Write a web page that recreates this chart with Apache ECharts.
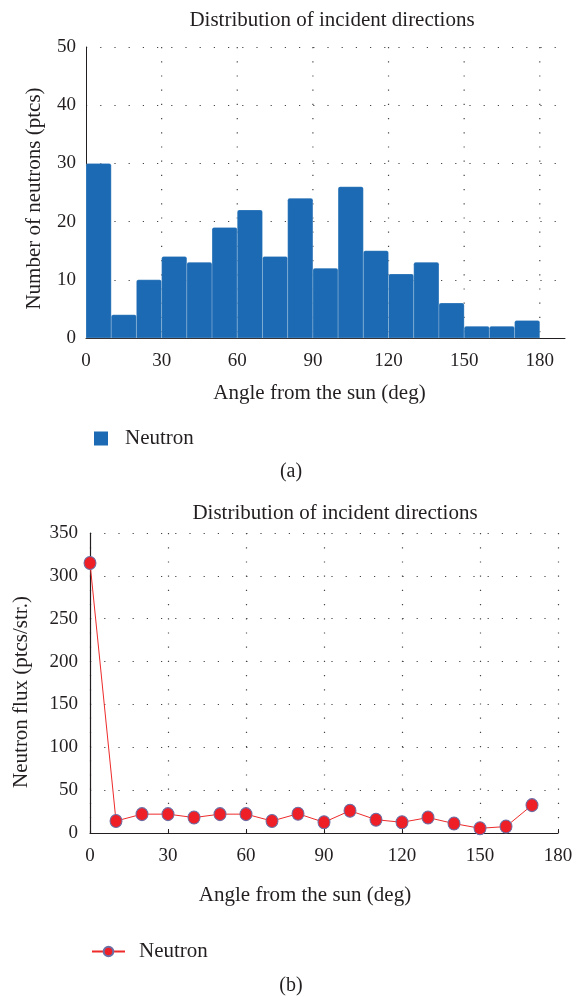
<!DOCTYPE html>
<html>
<head>
<meta charset="utf-8">
<script src="https://cdn.jsdelivr.net/npm/echarts@6/dist/echarts.min.js"></script>
<style>
  html, body { margin: 0; padding: 0; background: #fff; }
  #chart { width: 578px; height: 997px; }
</style>
</head>
<body>
<div id="chart"></div>
<script>
// Histogram: 10-degree bins of angle from the sun and neutron counts per bin
const binEdges = [0, 10, 20, 30, 40, 50, 60, 70, 80, 90, 100, 110, 120, 130, 140, 150, 160, 170, 180];
const neutronCounts = [30, 4, 10, 14, 13, 19, 22, 14, 24, 12, 26, 15, 11, 13, 6, 2, 2, 3];

// Flux per steradian at the start of each bin
const fluxAngles = [0, 10, 20, 30, 40, 50, 60, 70, 80, 90, 100, 110, 120, 130, 140, 150, 160, 170];
const fluxValues = [315, 14, 22, 22, 18, 22, 22, 14, 22.5, 12.5, 26, 15.5, 12.5, 18, 11, 5.5, 7.5, 32.5];

// Axis ticks
const angleTicks = [0, 30, 60, 90, 120, 150, 180];
const countTicks = [0, 10, 20, 30, 40, 50];
const fluxTicks = [0, 50, 100, 150, 200, 250, 300, 350];

const FONT = '"Liberation Serif", "DejaVu Serif", serif';
const TEXT = '#231f20';
const BAR = '#1b6ab3';
const DOT = [1.2, 13];

const histData = neutronCounts.map((c, i) => [binEdges[i], binEdges[i + 1], c]);
const fluxData = fluxAngles.map((a, i) => [a, fluxValues[i]]);
const angleStep = angleTicks[1] - angleTicks[0];

const chart = echarts.init(document.getElementById('chart'), null, { renderer: 'canvas' });

const tickStyle = { color: TEXT, fontFamily: FONT, fontSize: 19 };
const wordStyle = { color: TEXT, fontFamily: FONT, fontSize: 21 };
const dotted = { color: '#444', width: 1.2, type: DOT };

chart.setOption({
  animation: false,
  backgroundColor: '#fff',
  title: [
    { text: 'Distribution of incident directions', left: 327, top: 5, textAlign: 'center',
      textStyle: { fontFamily: FONT, fontSize: 21, fontWeight: 'normal', color: TEXT } },
    { text: 'Distribution of incident directions', left: 330, top: 498, textAlign: 'center',
      textStyle: { fontFamily: FONT, fontSize: 21, fontWeight: 'normal', color: TEXT } }
  ],
  legend: [
    { data: [{ name: 'counts', icon: 'rect' }], left: 94, top: 428, padding: 0, itemWidth: 14, itemHeight: 14,
      formatter: () => 'Neutron', selectedMode: false,
      textStyle: Object.assign({ padding: [0, 0, 0, 12] }, wordStyle) },
    { data: ['flux'], left: 91, top: 941, padding: 0, itemWidth: 33, itemHeight: 12,
      formatter: () => 'Neutron', selectedMode: false,
      textStyle: Object.assign({ padding: [0, 0, 0, 9] }, wordStyle) }
  ],
  grid: [
    { left: 86, right: 13, top: 47, height: 291 },
    { left: 90, right: 20, top: 533, height: 300 }
  ],
  xAxis: [
    { type: 'value', gridIndex: 0, min: angleTicks[0], max: angleTicks[angleTicks.length - 1] + 10,
      interval: angleStep,
      axisLine: { show: true, lineStyle: { color: TEXT, width: 1 } },
      axisTick: { show: false },
      axisLabel: Object.assign({ margin: 14, showMaxLabel: false }, tickStyle),
      splitLine: { show: false },
      name: 'Angle from the sun (deg)', nameLocation: 'middle', nameGap: 45,
      nameTextStyle: Object.assign({ padding: [0, 12, 0, 0] }, wordStyle) },
    { type: 'value', gridIndex: 1, min: angleTicks[0], max: angleTicks[angleTicks.length - 1],
      interval: angleStep,
      axisLine: { show: true, lineStyle: { color: TEXT, width: 1.2 } },
      axisTick: { show: true, inside: true, length: 4, lineStyle: { color: TEXT } },
      axisLabel: Object.assign({ margin: 14 }, tickStyle),
      splitLine: { show: true, lineStyle: dotted },
      name: 'Angle from the sun (deg)', nameLocation: 'middle', nameGap: 52,
      nameTextStyle: Object.assign({ padding: [0, 38, 0, 0] }, wordStyle) }
  ],
  yAxis: [
    { type: 'value', gridIndex: 0, min: countTicks[0], max: countTicks[countTicks.length - 1],
      interval: countTicks[1] - countTicks[0],
      axisLine: { show: true, lineStyle: { color: TEXT, width: 1 } },
      axisTick: { show: false },
      axisLabel: Object.assign({ margin: 10 }, tickStyle),
      splitLine: { show: true, lineStyle: dotted },
      name: 'Number of neutrons (ptcs)', nameLocation: 'middle', nameGap: 41,
      nameTextStyle: Object.assign({ padding: [0, 12, 0, 0] }, wordStyle) },
    { type: 'value', gridIndex: 1, min: fluxTicks[0], max: fluxTicks[fluxTicks.length - 1],
      interval: fluxTicks[1] - fluxTicks[0],
      axisLine: { show: true, lineStyle: { color: TEXT, width: 1.2 } },
      axisTick: { show: false },
      axisLabel: Object.assign({ margin: 12 }, tickStyle),
      splitLine: { show: true, lineStyle: dotted },
      name: 'Neutron flux (ptcs/str.)', nameLocation: 'middle', nameGap: 58,
      nameTextStyle: Object.assign({ padding: [0, 18, 0, 0] }, wordStyle) }
  ],
  series: [
    {
      // vertical dotted grid lines of the histogram panel
      type: 'custom', name: 'angle grid', xAxisIndex: 0, yAxisIndex: 0, silent: true, z: 1,
      data: angleTicks.filter(t => t > angleTicks[0]).map(t => [t]),
      renderItem: (params, api) => {
        const top = api.coord([api.value(0), countTicks[countTicks.length - 1]]);
        const bottom = api.coord([api.value(0), countTicks[0]]);
        return { type: 'line', shape: { x1: top[0], y1: top[1], x2: bottom[0], y2: bottom[1] },
                 style: { stroke: '#444', lineWidth: 1.2, lineDash: DOT } };
      }
    },
    {
      type: 'custom', name: 'counts', xAxisIndex: 0, yAxisIndex: 0, z: 2,
      itemStyle: { color: BAR },
      encode: { x: [0, 1], y: 2 },
      data: histData,
      renderItem: (params, api) => {
        const tl = api.coord([api.value(0), api.value(2)]);
        const br = api.coord([api.value(1), 0]);
        return { type: 'rect',
                 shape: { x: tl[0], y: tl[1], width: br[0] - tl[0], height: br[1] - tl[1], r: [2, 2, 0, 0] },
                 style: { fill: BAR, stroke: 'rgba(255,255,255,0.35)', lineWidth: 0.6 } };
      }
    },
    {
      type: 'line', name: 'flux', xAxisIndex: 1, yAxisIndex: 1, z: 3,
      data: fluxData,
      symbol: 'circle', symbolSize: [12, 13],
      lineStyle: { color: '#ee2a2a', width: 1 },
      itemStyle: { color: '#ee1f26', borderColor: '#6a6fa5', borderWidth: 1 }
    }
  ],
  graphic: [
    { type: 'text', x: 291, y: 472, style: { text: '(a)', align: 'center', verticalAlign: 'middle',
      fill: TEXT, font: '20px ' + FONT } },
    { type: 'text', x: 291, y: 986, style: { text: '(b)', align: 'center', verticalAlign: 'middle',
      fill: TEXT, font: '20px ' + FONT } }
  ]
});
</script>
</body>
</html>
